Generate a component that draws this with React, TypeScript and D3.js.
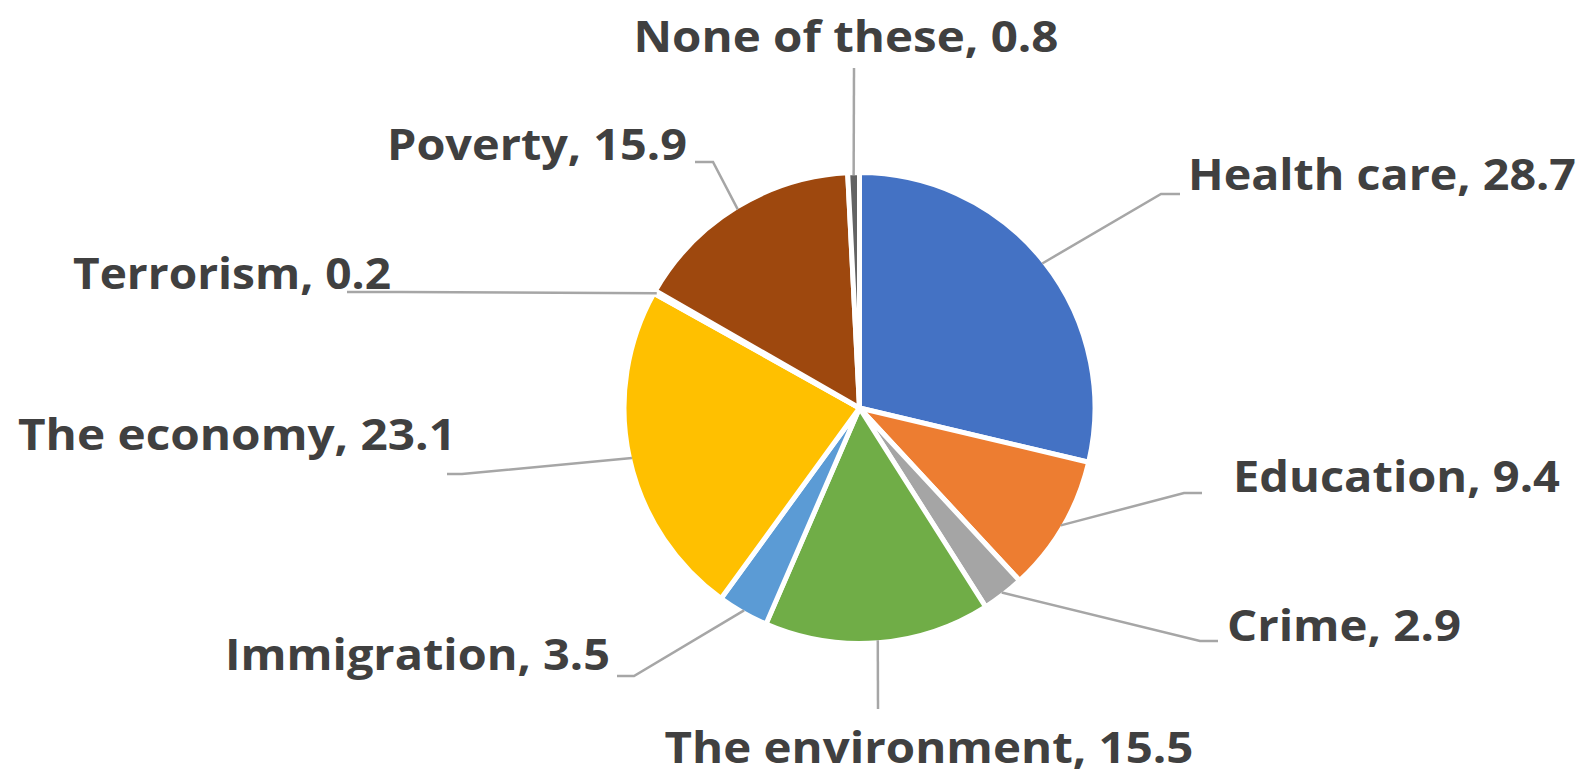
import React from "react";
import * as d3 from "d3";

const categories = [
  "Health care",
  "Education",
  "Crime",
  "The environment",
  "Immigration",
  "The economy",
  "Terrorism",
  "Poverty",
  "None of these",
];
const values = [28.7, 9.4, 2.9, 15.5, 3.5, 23.1, 0.2, 15.9, 0.8];
const colors = [
  "#4472C4",
  "#ED7D31",
  "#A5A5A5",
  "#70AD47",
  "#5B9BD5",
  "#FFC000",
  "#264478",
  "#9E480E",
  "#636363",
];

// label layout (page coordinates): text anchor point, text width, leader line elbow/end
type LabelLayout = {
  x: number;
  y: number;
  w: number;
  anchor: "start" | "middle" | "end";
  pts: [number, number][];
};
const labelLayout: LabelLayout[] = [
  { x: 1188, y: 190, w: 388, anchor: "start", pts: [[1161, 194], [1180, 194]] },
  { x: 1233, y: 492, w: 327, anchor: "start", pts: [[1184, 493], [1202, 493]] },
  { x: 1227, y: 641, w: 234, anchor: "start", pts: [[1200, 641], [1218, 641]] },
  { x: 929, y: 763, w: 529, anchor: "middle", pts: [[878, 709]] },
  { x: 610, y: 670, w: 385, anchor: "end", pts: [[634, 676], [617, 676]] },
  { x: 456, y: 450, w: 438, anchor: "end", pts: [[462, 474], [447, 474]] },
  { x: 391, y: 289, w: 318, anchor: "end", pts: [[400, 292], [347, 292]] },
  { x: 687, y: 160, w: 300, anchor: "end", pts: [[713, 162], [695, 162]] },
  { x: 846, y: 52, w: 425, anchor: "middle", pts: [[854, 68]] },
];

const W = 1586;
const H = 776;
const cx = 859.5;
const cy = 408;
const R = 235.5;
const strokeW = 5;

export default function App() {
  const pie = d3
    .pie<number>()
    .sort(null)
    .value((d) => d);
  const arcs = pie(values);
  const arc = d3.arc<d3.PieArcDatum<number>>().innerRadius(0).outerRadius(R);
  const edgeR = R - strokeW / 2;
  const line = d3.line();

  return (
    <svg
      width={W}
      height={H}
      style={{ position: "absolute", left: 0, top: 0, background: "#fff" }}
      fontFamily="'Open Sans', 'Noto Sans', sans-serif"
    >
      <g transform={`translate(${cx},${cy})`}>
        {arcs.map((a, i) => (
          <path
            key={i}
            d={arc(a) || ""}
            fill={colors[i]}
            stroke="#fff"
            strokeWidth={strokeW}
            strokeLinejoin="round"
          />
        ))}
      </g>
      {arcs.map((a, i) => {
        const mid = (a.startAngle + a.endAngle) / 2;
        const sx = cx + edgeR * Math.sin(mid);
        const sy = cy - edgeR * Math.cos(mid);
        const pts: [number, number][] = [[sx, sy], ...labelLayout[i].pts];
        return (
          <path
            key={"l" + i}
            d={line(pts) || ""}
            fill="none"
            stroke="#A6A6A6"
            strokeWidth={2.5}
          />
        );
      })}
      {categories.map((c, i) => (
        <text
          key={"t" + i}
          x={labelLayout[i].x}
          y={labelLayout[i].y}
          textAnchor={labelLayout[i].anchor}
          textLength={labelLayout[i].w}
          lengthAdjust="spacingAndGlyphs"
          fontSize={43}
          fontWeight="bold"
          fill="#404040"
          style={{ fontVariantLigatures: "none" }}
        >
          {`${c}, ${values[i]}`}
        </text>
      ))}
    </svg>
  );
}
